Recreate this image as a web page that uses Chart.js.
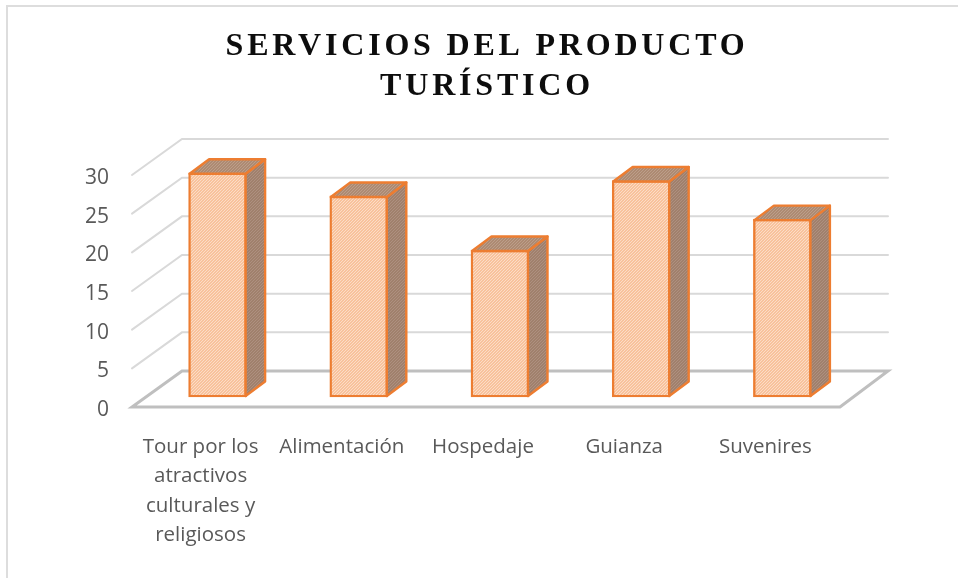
<!DOCTYPE html>
<html><head><meta charset="utf-8">
<style>html,body{margin:0;padding:0;background:#fff}canvas{display:block}</style>
<script src="https://cdn.jsdelivr.net/npm/chart.js@4"></script>
</head><body><canvas id="c" width="958" height="578"></canvas>
<script>
const categories = [["Tour por los","atractivos","culturales y","religiosos"],"Alimentación","Hospedaje","Guianza","Suvenires"];
const values = [29,26,19,28,23];
const titleLines = ["SERVICIOS DEL PRODUCTO","TURÍSTICO"];
const yTicks = [0,5,10,15,20,25,30];

function hatch(base, line){
  const p=document.createElement('canvas');p.width=3;p.height=3;
  const g=p.getContext('2d');g.fillStyle=base;g.fillRect(0,0,3,3);
  g.fillStyle=line;
  g.fillRect(2,0,1,1);g.fillRect(1,1,1,1);g.fillRect(0,2,1,1);
  return g.createPattern(p,'repeat');
}
const ctx0=document.getElementById('c').getContext('2d');
const frontFill=hatch('#F8C29C','#FCDCC6');
const sideFill=hatch('#A0806C','#AE9080');
const topFill=hatch('#AD8A72','#BC9E8A');

const frame={id:'frame',
  afterUpdate(chart){
    const tb=chart.titleBlock;
    if(tb&&!tb._sp){const d=tb.draw;tb._sp=true;tb.draw=function(){const ctx=this.ctx;ctx.save();ctx.letterSpacing='3.8px';d.call(this);ctx.restore();};}
  },
  beforeDraw(chart){
    const c=chart.ctx;c.save();c.strokeStyle='#DDDDDD';c.lineWidth=2;
    c.beginPath();c.moveTo(7,578);c.lineTo(7,6);c.lineTo(958,6);c.stroke();c.restore();
  },
  beforeDatasetsDraw(chart){
    const c=chart.ctx,s=chart.scales.y,a=chart.chartArea;
    const L=a.left-15,R=a.right-13,dxL=50,dxR=48,dy=36,up=3;
    c.save();c.lineCap='round';
    s.ticks.forEach(t=>{
      const y=s.getPixelForValue(t.value)-up;
      c.beginPath();
      if(t.value===0){
        c.strokeStyle='#BFBFBF';c.lineWidth=3;
        c.moveTo(L,y);c.lineTo(R,y);c.lineTo(R+dxR,y-dy);c.lineTo(L+dxL,y-dy);c.closePath();
      }else{
        c.strokeStyle='#D9D9D9';c.lineWidth=2;
        c.moveTo(L,y);c.lineTo(L+dxL,y-dy);c.lineTo(R+dxR,y-dy);
      }
      c.stroke();
    });
    c.restore();
  },
  afterDatasetsDraw(chart){
    const c=chart.ctx,dx=19.5,dy=14.5;
    chart.getDatasetMeta(0).data.forEach(b=>{
      const l=b.x-b.width/2+1,r=b.x+b.width/2-1,t=b.y+1,bt=b.base-1;
      c.save();c.strokeStyle='#ED7D31';c.lineWidth=2.4;c.lineJoin='round';
      c.beginPath();c.moveTo(r,t);c.lineTo(r+dx,t-dy);c.lineTo(r+dx,bt-dy);c.lineTo(r,bt);c.closePath();
      c.fillStyle=sideFill;c.fill();c.stroke();
      c.beginPath();c.moveTo(l,t);c.lineTo(l+dx,t-dy);c.lineTo(r+dx,t-dy);c.lineTo(r,t);c.closePath();
      c.fillStyle=topFill;c.fill();c.stroke();
      c.restore();
    });
  }
};

new Chart(ctx0,{
  type:'bar',
  plugins:[frame],
  data:{labels:categories,datasets:[{
    data:values,yAxisID:'yBars',clip:false,
    backgroundColor:frontFill,borderColor:'#ED7D31',borderWidth:2.4,borderSkipped:false,barThickness:58
  }]},
  options:{
    responsive:false,animation:false,
    layout:{padding:{left:16,right:0,top:0,bottom:0}},
    plugins:{legend:{display:false},tooltip:{enabled:false},
      title:{display:true,text:titleLines,color:'#0D0D0D',
        font:{family:'"Liberation Serif"',size:32,weight:'bold',lineHeight:1.25},
        padding:{top:27,bottom:71}}},
    scales:{
      x:{grid:{display:false},border:{display:false},
        afterFit(s){s.height=168;},
        ticks:{color:'#595959',font:{family:'"Open Sans"',size:20.5,lineHeight:1.44},
          maxRotation:0,autoSkip:false,padding:14,labelOffset:-17}},
      y:{min:0,max:30,position:'left',grid:{display:false},border:{display:false},
        afterBuildTicks(s){s.ticks=yTicks.map(v=>({value:v}));},
        afterFit(s){s.width=131;},
        ticks:{color:'#595959',font:{family:'"Open Sans"',size:21},padding:30}},
      yBars:{min:-1.681,max:28.319,position:'right',grid:{display:false},border:{display:false},
        ticks:{display:false},afterFit(s){s.width=105;}}
    }
  }
});
</script></body></html>
